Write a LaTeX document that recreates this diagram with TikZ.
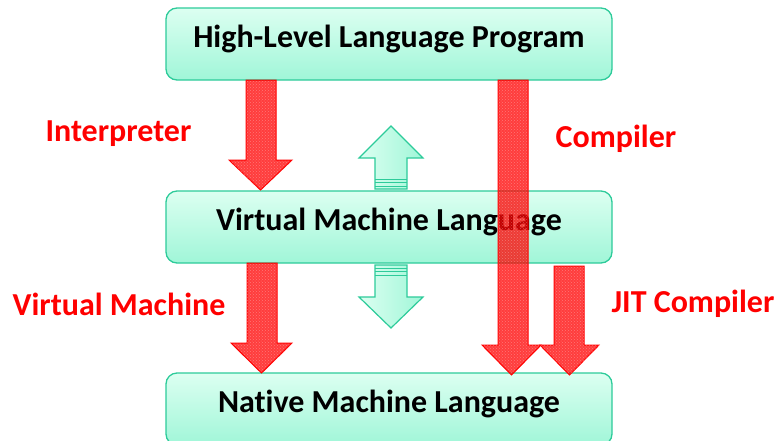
\documentclass[tikz,border=0pt]{standalone}
\usepackage{fontspec}
\setmainfont[Ligatures=NoCommon]{Carlito}
\usetikzlibrary{patterns}
\definecolor{mintTop}{HTML}{DCFFF1}
\definecolor{mintBot}{HTML}{A0F6D8}
\definecolor{mintLine}{HTML}{2DCB9A}
\definecolor{lblred}{HTML}{FF0000}
\tikzset{
  langbox/.style={draw=mintLine, line width=1.3pt, rounded corners=11pt,
    top color=mintTop, bottom color=mintBot, minimum width=446pt, minimum height=72pt,
    inner sep=0pt, text height=21pt, text depth=15pt,
    font=\fontsize{32}{38}\selectfont\bfseries, text=black},
  lbl/.style={anchor=base, text=lblred, inner sep=0pt, font=\fontsize{32}{38}\selectfont\bfseries},
  redarrow/.style={draw=red, line width=1pt, fill=red, fill opacity=0.76},
  redtex/.style={pattern=crosshatch dots, pattern color=white, fill opacity=0.3},
  grnarrow/.style={draw=mintLine, line width=1.2pt, left color=mintTop, right color=mintBot},
  stripe/.style={draw=mintLine, line width=1pt}
}
\begin{document}
\begin{tikzpicture}[x=1pt,y=-1pt]
\useasboundingbox (0,0) rectangle (779,440);
\clip (0,0) rectangle (779,440);
% boxes
\node[langbox] (hll) at (389,44) {High-Level Language Program};
\node[langbox] (vml) at (389,227) {Virtual Machine Language};
\node[langbox] (nml) at (389,409) {Native Machine Language};
% labels
\node[lbl] (interp) at (118.5,141) {Interpreter};
\node[lbl] (comp) at (616,147) {Compiler};
\node[lbl] (vm) at (119,315) {Virtual Machine};
\node[lbl] (jit) at (693,312) {JIT Compiler};
% green up arrow
\path[grnarrow] (375,189) -- (375,158) -- (359,158) -- (391,126) -- (423,158) -- (407,158) -- (407,189) -- cycle;
\foreach \yy in {179,182.5,186} \draw[stripe] (375,\yy) -- (407,\yy);
% green down arrow
\path[grnarrow] (375,265) -- (375,297) -- (359,297) -- (391,328) -- (423,297) -- (407,297) -- (407,265) -- cycle;
\foreach \yy in {268,271.5,275} \draw[stripe] (375,\yy) -- (407,\yy);
% red arrows
\newcommand{\redarr}[6]{% x1 x2 ytop yhead hx1 hx2
  \path[redarrow] (#1,#3) -- (#1,#4) -- (#5,#4) -- ({(#5+#6)/2},#4+30) -- (#6,#4) -- (#2,#4) -- (#2,#3) -- cycle;
  \path[redtex] (#1,#3) -- (#1,#4) -- (#5,#4) -- ({(#5+#6)/2},#4+30) -- (#6,#4) -- (#2,#4) -- (#2,#3) -- cycle;
}
\redarr{246}{276}{80}{160}{229}{292}
\redarr{247}{277}{263}{343}{231}{292}
\redarr{498}{528}{80}{345}{482}{541}
\redarr{554}{584}{266}{345}{540}{599}
\end{tikzpicture}
\end{document}
